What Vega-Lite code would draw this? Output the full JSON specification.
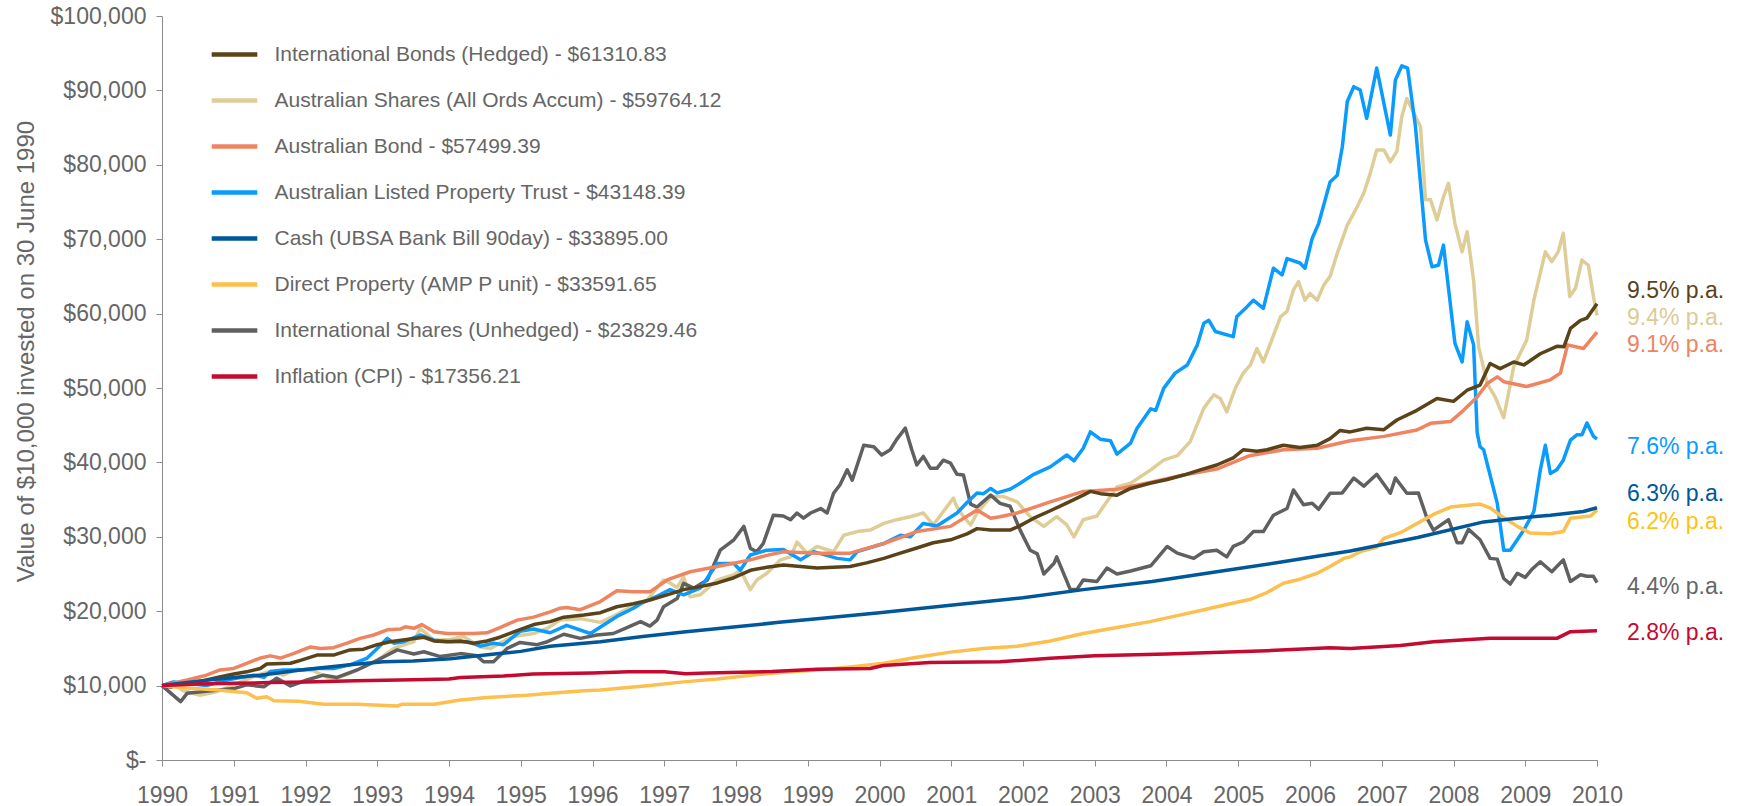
{
  "$schema": "https://vega.github.io/schema/vega-lite/v6.json",
  "width": 1435,
  "height": 744,
  "autosize": "none",
  "padding": {"left": 162, "top": 16, "right": 146, "bottom": 46},
  "background": "white",
  "config": {
    "view": {"stroke": null},
    "font": "Liberation Sans",
    "axis": {"labelFont": "Liberation Sans", "titleFont": "Liberation Sans"}
  },
  "datasets": {
    "lines": [
      {"series":"AS","year":1990,"value":10000},{"series":"AS","year":1990.12,"value":10400},{"series":"AS","year":1990.3,"value":9300},{"series":"AS","year":1990.53,"value":8700},{"series":"AS","year":1990.77,"value":9200},{"series":"AS","year":1991,"value":10100},{"series":"AS","year":1991.32,"value":11400},{"series":"AS","year":1991.51,"value":11900},{"series":"AS","year":1991.69,"value":11400},{"series":"AS","year":1991.88,"value":12200},{"series":"AS","year":1992.11,"value":12000},{"series":"AS","year":1992.3,"value":11100},{"series":"AS","year":1992.44,"value":11000},{"series":"AS","year":1992.62,"value":11650},{"series":"AS","year":1992.81,"value":12500},{"series":"AS","year":1993,"value":13400},{"series":"AS","year":1993.23,"value":15000},{"series":"AS","year":1993.51,"value":15900},{"series":"AS","year":1993.6,"value":17700},{"series":"AS","year":1993.79,"value":16100},{"series":"AS","year":1994.02,"value":16200},{"series":"AS","year":1994.2,"value":16600},{"series":"AS","year":1994.44,"value":15200},{"series":"AS","year":1994.58,"value":15000},{"series":"AS","year":1994.71,"value":15700},{"series":"AS","year":1994.9,"value":16600},{"series":"AS","year":1995.18,"value":17000},{"series":"AS","year":1995.37,"value":17700},{"series":"AS","year":1995.55,"value":18800},{"series":"AS","year":1995.83,"value":19000},{"series":"AS","year":1996.11,"value":18500},{"series":"AS","year":1996.29,"value":19300},{"series":"AS","year":1996.48,"value":20300},{"series":"AS","year":1996.57,"value":20600},{"series":"AS","year":1996.76,"value":21500},{"series":"AS","year":1996.99,"value":24200},{"series":"AS","year":1997.08,"value":23800},{"series":"AS","year":1997.18,"value":23200},{"series":"AS","year":1997.27,"value":24600},{"series":"AS","year":1997.36,"value":21950},{"series":"AS","year":1997.5,"value":22200},{"series":"AS","year":1997.74,"value":24200},{"series":"AS","year":1997.97,"value":24900},{"series":"AS","year":1998.06,"value":25500},{"series":"AS","year":1998.2,"value":22900},{"series":"AS","year":1998.29,"value":24200},{"series":"AS","year":1998.43,"value":25100},{"series":"AS","year":1998.62,"value":26900},{"series":"AS","year":1998.76,"value":27300},{"series":"AS","year":1998.85,"value":29300},{"series":"AS","year":1998.99,"value":27800},{"series":"AS","year":1999.13,"value":28700},{"series":"AS","year":1999.36,"value":28000},{"series":"AS","year":1999.5,"value":30200},{"series":"AS","year":1999.69,"value":30700},{"series":"AS","year":1999.87,"value":30900},{"series":"AS","year":2000.06,"value":31800},{"series":"AS","year":2000.24,"value":32300},{"series":"AS","year":2000.43,"value":32700},{"series":"AS","year":2000.61,"value":33200},{"series":"AS","year":2000.75,"value":31600},{"series":"AS","year":2000.89,"value":33400},{"series":"AS","year":2001.03,"value":35200},{"series":"AS","year":2001.08,"value":34000},{"series":"AS","year":2001.17,"value":32700},{"series":"AS","year":2001.27,"value":31600},{"series":"AS","year":2001.36,"value":33200},{"series":"AS","year":2001.55,"value":35400},{"series":"AS","year":2001.73,"value":35400},{"series":"AS","year":2001.92,"value":34700},{"series":"AS","year":2002.1,"value":32700},{"series":"AS","year":2002.29,"value":31400},{"series":"AS","year":2002.47,"value":32700},{"series":"AS","year":2002.61,"value":31600},{"series":"AS","year":2002.71,"value":30000},{"series":"AS","year":2002.84,"value":32300},{"series":"AS","year":2003.03,"value":32800},{"series":"AS","year":2003.31,"value":36700},{"series":"AS","year":2003.5,"value":37200},{"series":"AS","year":2003.78,"value":39000},{"series":"AS","year":2003.96,"value":40300},{"series":"AS","year":2004.15,"value":40900},{"series":"AS","year":2004.33,"value":42800},{"series":"AS","year":2004.52,"value":47300},{"series":"AS","year":2004.66,"value":49100},{"series":"AS","year":2004.75,"value":48600},{"series":"AS","year":2004.84,"value":46800},{"series":"AS","year":2004.96,"value":50000},{"series":"AS","year":2005.07,"value":52000},{"series":"AS","year":2005.17,"value":53100},{"series":"AS","year":2005.26,"value":55300},{"series":"AS","year":2005.35,"value":53500},{"series":"AS","year":2005.59,"value":59600},{"series":"AS","year":2005.68,"value":60300},{"series":"AS","year":2005.77,"value":63200},{"series":"AS","year":2005.84,"value":64300},{"series":"AS","year":2005.93,"value":61800},{"series":"AS","year":2006,"value":62700},{"series":"AS","year":2006.1,"value":61800},{"series":"AS","year":2006.19,"value":63800},{"series":"AS","year":2006.28,"value":65000},{"series":"AS","year":2006.38,"value":68100},{"series":"AS","year":2006.52,"value":71900},{"series":"AS","year":2006.66,"value":74400},{"series":"AS","year":2006.75,"value":76200},{"series":"AS","year":2006.84,"value":78850},{"series":"AS","year":2006.93,"value":82000},{"series":"AS","year":2007.03,"value":82000},{"series":"AS","year":2007.12,"value":80400},{"series":"AS","year":2007.21,"value":81800},{"series":"AS","year":2007.28,"value":86500},{"series":"AS","year":2007.35,"value":88900},{"series":"AS","year":2007.54,"value":85100},{"series":"AS","year":2007.61,"value":75300},{"series":"AS","year":2007.68,"value":75300},{"series":"AS","year":2007.77,"value":72600},{"series":"AS","year":2007.86,"value":75700},{"series":"AS","year":2007.93,"value":77500},{"series":"AS","year":2008.02,"value":72100},{"series":"AS","year":2008.12,"value":68300},{"series":"AS","year":2008.19,"value":71000},{"series":"AS","year":2008.28,"value":64500},{"series":"AS","year":2008.35,"value":55550},{"series":"AS","year":2008.47,"value":50600},{"series":"AS","year":2008.58,"value":48800},{"series":"AS","year":2008.7,"value":46000},{"series":"AS","year":2008.84,"value":52900},{"series":"AS","year":2009.02,"value":56450},{"series":"AS","year":2009.12,"value":61800},{"series":"AS","year":2009.28,"value":68300},{"series":"AS","year":2009.37,"value":67000},{"series":"AS","year":2009.46,"value":68300},{"series":"AS","year":2009.53,"value":70800},{"series":"AS","year":2009.62,"value":62300},{"series":"AS","year":2009.7,"value":63400},{"series":"AS","year":2009.79,"value":67200},{"series":"AS","year":2009.88,"value":66500},{"series":"AS","year":2009.95,"value":62300},{"series":"AS","year":2010,"value":59760},

      {"series":"IS","year":1990,"value":10000},{"series":"IS","year":1990.26,"value":7850},{"series":"IS","year":1990.35,"value":8960},{"series":"IS","year":1990.58,"value":9200},{"series":"IS","year":1991,"value":9600},{"series":"IS","year":1991.18,"value":10100},{"series":"IS","year":1991.42,"value":9850},{"series":"IS","year":1991.6,"value":11000},{"series":"IS","year":1991.79,"value":9950},{"series":"IS","year":1992.02,"value":10750},{"series":"IS","year":1992.25,"value":11400},{"series":"IS","year":1992.44,"value":11100},{"series":"IS","year":1992.72,"value":12100},{"series":"IS","year":1993,"value":13400},{"series":"IS","year":1993.28,"value":14800},{"series":"IS","year":1993.51,"value":14250},{"series":"IS","year":1993.65,"value":14550},{"series":"IS","year":1993.88,"value":13900},{"series":"IS","year":1994.16,"value":14300},{"series":"IS","year":1994.39,"value":14000},{"series":"IS","year":1994.48,"value":13200},{"series":"IS","year":1994.62,"value":13200},{"series":"IS","year":1994.81,"value":15000},{"series":"IS","year":1994.99,"value":15800},{"series":"IS","year":1995.23,"value":15500},{"series":"IS","year":1995.37,"value":15900},{"series":"IS","year":1995.6,"value":16900},{"series":"IS","year":1995.83,"value":16350},{"series":"IS","year":1996.06,"value":16800},{"series":"IS","year":1996.29,"value":17000},{"series":"IS","year":1996.48,"value":17800},{"series":"IS","year":1996.67,"value":18600},{"series":"IS","year":1996.8,"value":18000},{"series":"IS","year":1996.9,"value":18800},{"series":"IS","year":1996.99,"value":20600},{"series":"IS","year":1997.18,"value":21700},{"series":"IS","year":1997.27,"value":23750},{"series":"IS","year":1997.41,"value":23100},{"series":"IS","year":1997.6,"value":24200},{"series":"IS","year":1997.78,"value":28200},{"series":"IS","year":1997.97,"value":29600},{"series":"IS","year":1998.11,"value":31400},{"series":"IS","year":1998.2,"value":28450},{"series":"IS","year":1998.29,"value":28000},{"series":"IS","year":1998.38,"value":29100},{"series":"IS","year":1998.52,"value":32900},{"series":"IS","year":1998.66,"value":32800},{"series":"IS","year":1998.76,"value":32300},{"series":"IS","year":1998.85,"value":33200},{"series":"IS","year":1998.94,"value":32500},{"series":"IS","year":1999.04,"value":33200},{"series":"IS","year":1999.18,"value":33800},{"series":"IS","year":1999.27,"value":33200},{"series":"IS","year":1999.36,"value":35850},{"series":"IS","year":1999.45,"value":37000},{"series":"IS","year":1999.55,"value":39000},{"series":"IS","year":1999.62,"value":37600},{"series":"IS","year":1999.78,"value":42300},{"series":"IS","year":1999.92,"value":42100},{"series":"IS","year":2000.03,"value":41000},{"series":"IS","year":2000.15,"value":41700},{"series":"IS","year":2000.24,"value":43100},{"series":"IS","year":2000.36,"value":44600},{"series":"IS","year":2000.45,"value":41700},{"series":"IS","year":2000.52,"value":39650},{"series":"IS","year":2000.61,"value":40800},{"series":"IS","year":2000.71,"value":39200},{"series":"IS","year":2000.8,"value":39200},{"series":"IS","year":2000.89,"value":40300},{"series":"IS","year":2000.99,"value":39900},{"series":"IS","year":2001.08,"value":38400},{"series":"IS","year":2001.17,"value":38300},{"series":"IS","year":2001.27,"value":34400},{"series":"IS","year":2001.36,"value":34000},{"series":"IS","year":2001.55,"value":35600},{"series":"IS","year":2001.68,"value":34500},{"series":"IS","year":2001.82,"value":34100},{"series":"IS","year":2001.96,"value":30900},{"series":"IS","year":2002.1,"value":28200},{"series":"IS","year":2002.2,"value":27700},{"series":"IS","year":2002.29,"value":25000},{"series":"IS","year":2002.43,"value":26400},{"series":"IS","year":2002.47,"value":27300},{"series":"IS","year":2002.66,"value":22900},{"series":"IS","year":2002.75,"value":22900},{"series":"IS","year":2002.84,"value":24200},{"series":"IS","year":2003.03,"value":24000},{"series":"IS","year":2003.17,"value":25800},{"series":"IS","year":2003.31,"value":25000},{"series":"IS","year":2003.5,"value":25400},{"series":"IS","year":2003.78,"value":26100},{"series":"IS","year":2004.01,"value":28700},{"series":"IS","year":2004.15,"value":27800},{"series":"IS","year":2004.38,"value":27100},{"series":"IS","year":2004.52,"value":28000},{"series":"IS","year":2004.7,"value":28200},{"series":"IS","year":2004.84,"value":27300},{"series":"IS","year":2004.93,"value":28700},{"series":"IS","year":2005.07,"value":29300},{"series":"IS","year":2005.21,"value":30700},{"series":"IS","year":2005.35,"value":30700},{"series":"IS","year":2005.49,"value":32900},{"series":"IS","year":2005.68,"value":33800},{"series":"IS","year":2005.77,"value":36300},{"series":"IS","year":2005.91,"value":34300},{"series":"IS","year":2006.03,"value":34500},{"series":"IS","year":2006.12,"value":33700},{"series":"IS","year":2006.28,"value":35850},{"series":"IS","year":2006.45,"value":35900},{"series":"IS","year":2006.61,"value":37900},{"series":"IS","year":2006.75,"value":36800},{"series":"IS","year":2006.93,"value":38400},{"series":"IS","year":2007.12,"value":35850},{"series":"IS","year":2007.19,"value":37900},{"series":"IS","year":2007.35,"value":35850},{"series":"IS","year":2007.51,"value":35900},{"series":"IS","year":2007.63,"value":32500},{"series":"IS","year":2007.72,"value":30900},{"series":"IS","year":2007.93,"value":32300},{"series":"IS","year":2008.05,"value":29200},{"series":"IS","year":2008.12,"value":29200},{"series":"IS","year":2008.21,"value":31000},{"series":"IS","year":2008.37,"value":29600},{"series":"IS","year":2008.51,"value":27100},{"series":"IS","year":2008.61,"value":27000},{"series":"IS","year":2008.7,"value":24400},{"series":"IS","year":2008.79,"value":23650},{"series":"IS","year":2008.89,"value":25100},{"series":"IS","year":2009,"value":24550},{"series":"IS","year":2009.09,"value":25600},{"series":"IS","year":2009.21,"value":26650},{"series":"IS","year":2009.37,"value":25300},{"series":"IS","year":2009.53,"value":26900},{"series":"IS","year":2009.63,"value":24000},{"series":"IS","year":2009.77,"value":24900},{"series":"IS","year":2009.86,"value":24700},{"series":"IS","year":2009.95,"value":24700},{"series":"IS","year":2010,"value":23830},

      {"series":"LPT","year":1990,"value":10000},{"series":"LPT","year":1990.16,"value":10500},{"series":"LPT","year":1990.35,"value":10300},{"series":"LPT","year":1990.62,"value":10000},{"series":"LPT","year":1990.9,"value":10750},{"series":"LPT","year":1991.09,"value":11100},{"series":"LPT","year":1991.28,"value":11400},{"series":"LPT","year":1991.42,"value":11100},{"series":"LPT","year":1991.51,"value":11900},{"series":"LPT","year":1991.69,"value":12100},{"series":"LPT","year":1991.93,"value":12100},{"series":"LPT","year":1992.16,"value":12300},{"series":"LPT","year":1992.39,"value":12300},{"series":"LPT","year":1992.62,"value":12800},{"series":"LPT","year":1992.86,"value":13700},{"series":"LPT","year":1993,"value":15000},{"series":"LPT","year":1993.14,"value":16350},{"series":"LPT","year":1993.23,"value":15700},{"series":"LPT","year":1993.37,"value":15900},{"series":"LPT","year":1993.6,"value":16800},{"series":"LPT","year":1993.79,"value":16100},{"series":"LPT","year":1994.02,"value":15900},{"series":"LPT","year":1994.25,"value":15900},{"series":"LPT","year":1994.44,"value":15300},{"series":"LPT","year":1994.62,"value":15700},{"series":"LPT","year":1994.76,"value":15500},{"series":"LPT","year":1994.99,"value":17300},{"series":"LPT","year":1995.18,"value":17600},{"series":"LPT","year":1995.41,"value":17100},{"series":"LPT","year":1995.64,"value":18100},{"series":"LPT","year":1995.97,"value":17000},{"series":"LPT","year":1996.34,"value":19300},{"series":"LPT","year":1996.57,"value":20400},{"series":"LPT","year":1996.67,"value":21000},{"series":"LPT","year":1996.94,"value":22200},{"series":"LPT","year":1997.08,"value":22900},{"series":"LPT","year":1997.27,"value":22200},{"series":"LPT","year":1997.5,"value":23100},{"series":"LPT","year":1997.74,"value":26400},{"series":"LPT","year":1997.97,"value":26400},{"series":"LPT","year":1998.06,"value":25500},{"series":"LPT","year":1998.2,"value":27550},{"series":"LPT","year":1998.43,"value":28200},{"series":"LPT","year":1998.66,"value":28300},{"series":"LPT","year":1998.9,"value":26900},{"series":"LPT","year":1999.08,"value":28000},{"series":"LPT","year":1999.41,"value":27100},{"series":"LPT","year":1999.59,"value":26900},{"series":"LPT","year":1999.69,"value":28000},{"series":"LPT","year":2000.06,"value":29100},{"series":"LPT","year":2000.29,"value":30200},{"series":"LPT","year":2000.43,"value":30000},{"series":"LPT","year":2000.61,"value":31800},{"series":"LPT","year":2000.8,"value":31450},{"series":"LPT","year":2001.08,"value":33200},{"series":"LPT","year":2001.22,"value":34600},{"series":"LPT","year":2001.36,"value":35900},{"series":"LPT","year":2001.45,"value":35800},{"series":"LPT","year":2001.55,"value":36500},{"series":"LPT","year":2001.64,"value":35900},{"series":"LPT","year":2001.82,"value":36400},{"series":"LPT","year":2001.96,"value":37200},{"series":"LPT","year":2002.15,"value":38400},{"series":"LPT","year":2002.38,"value":39400},{"series":"LPT","year":2002.61,"value":41000},{"series":"LPT","year":2002.71,"value":40200},{"series":"LPT","year":2002.84,"value":41900},{"series":"LPT","year":2002.94,"value":44100},{"series":"LPT","year":2003.08,"value":43100},{"series":"LPT","year":2003.22,"value":42900},{"series":"LPT","year":2003.31,"value":41100},{"series":"LPT","year":2003.5,"value":42600},{"series":"LPT","year":2003.59,"value":44600},{"series":"LPT","year":2003.78,"value":47200},{"series":"LPT","year":2003.85,"value":47000},{"series":"LPT","year":2003.96,"value":49950},{"series":"LPT","year":2004.12,"value":52000},{"series":"LPT","year":2004.29,"value":53100},{"series":"LPT","year":2004.43,"value":55800},{"series":"LPT","year":2004.52,"value":58700},{"series":"LPT","year":2004.59,"value":59100},{"series":"LPT","year":2004.68,"value":57600},{"series":"LPT","year":2004.93,"value":56900},{"series":"LPT","year":2004.98,"value":59600},{"series":"LPT","year":2005.12,"value":60900},{"series":"LPT","year":2005.21,"value":61800},{"series":"LPT","year":2005.35,"value":60700},{"series":"LPT","year":2005.49,"value":66100},{"series":"LPT","year":2005.61,"value":65200},{"series":"LPT","year":2005.68,"value":67400},{"series":"LPT","year":2005.86,"value":66800},{"series":"LPT","year":2005.93,"value":66100},{"series":"LPT","year":2006.03,"value":70100},{"series":"LPT","year":2006.12,"value":72100},{"series":"LPT","year":2006.28,"value":77700},{"series":"LPT","year":2006.38,"value":78600},{"series":"LPT","year":2006.45,"value":82400},{"series":"LPT","year":2006.52,"value":88500},{"series":"LPT","year":2006.61,"value":90500},{"series":"LPT","year":2006.7,"value":90050},{"series":"LPT","year":2006.79,"value":86250},{"series":"LPT","year":2006.93,"value":93000},{"series":"LPT","year":2007.12,"value":84000},{"series":"LPT","year":2007.19,"value":91400},{"series":"LPT","year":2007.28,"value":93300},{"series":"LPT","year":2007.36,"value":93000},{"series":"LPT","year":2007.47,"value":85100},{"series":"LPT","year":2007.61,"value":69900},{"series":"LPT","year":2007.7,"value":66300},{"series":"LPT","year":2007.79,"value":66500},{"series":"LPT","year":2007.86,"value":69200},{"series":"LPT","year":2008.02,"value":56000},{"series":"LPT","year":2008.12,"value":53500},{"series":"LPT","year":2008.19,"value":58900},{"series":"LPT","year":2008.28,"value":55800},{"series":"LPT","year":2008.33,"value":44000},{"series":"LPT","year":2008.37,"value":42100},{"series":"LPT","year":2008.42,"value":41700},{"series":"LPT","year":2008.61,"value":34500},{"series":"LPT","year":2008.7,"value":28200},{"series":"LPT","year":2008.79,"value":28200},{"series":"LPT","year":2008.98,"value":30900},{"series":"LPT","year":2009.12,"value":33400},{"series":"LPT","year":2009.21,"value":39000},{"series":"LPT","year":2009.28,"value":42300},{"series":"LPT","year":2009.35,"value":38500},{"series":"LPT","year":2009.44,"value":39000},{"series":"LPT","year":2009.53,"value":40300},{"series":"LPT","year":2009.63,"value":43000},{"series":"LPT","year":2009.72,"value":43700},{"series":"LPT","year":2009.79,"value":43700},{"series":"LPT","year":2009.86,"value":45300},{"series":"LPT","year":2009.95,"value":43500},{"series":"LPT","year":2010,"value":43150},

      {"series":"AB","year":1990,"value":10000},{"series":"AB","year":1990.35,"value":10750},{"series":"AB","year":1990.62,"value":11400},{"series":"AB","year":1990.81,"value":12100},{"series":"AB","year":1991,"value":12300},{"series":"AB","year":1991.18,"value":13000},{"series":"AB","year":1991.37,"value":13700},{"series":"AB","year":1991.51,"value":14000},{"series":"AB","year":1991.65,"value":13700},{"series":"AB","year":1991.83,"value":14300},{"series":"AB","year":1992.07,"value":15200},{"series":"AB","year":1992.21,"value":15000},{"series":"AB","year":1992.39,"value":15100},{"series":"AB","year":1992.58,"value":15700},{"series":"AB","year":1992.76,"value":16350},{"series":"AB","year":1992.95,"value":16800},{"series":"AB","year":1993.14,"value":17500},{"series":"AB","year":1993.32,"value":17600},{"series":"AB","year":1993.39,"value":17900},{"series":"AB","year":1993.51,"value":17700},{"series":"AB","year":1993.62,"value":18200},{"series":"AB","year":1993.79,"value":17250},{"series":"AB","year":1993.97,"value":17000},{"series":"AB","year":1994.16,"value":17000},{"series":"AB","year":1994.34,"value":17000},{"series":"AB","year":1994.53,"value":17100},{"series":"AB","year":1994.71,"value":17800},{"series":"AB","year":1994.95,"value":18800},{"series":"AB","year":1995.18,"value":19200},{"series":"AB","year":1995.41,"value":19900},{"series":"AB","year":1995.55,"value":20400},{"series":"AB","year":1995.64,"value":20500},{"series":"AB","year":1995.83,"value":20200},{"series":"AB","year":1996.11,"value":21300},{"series":"AB","year":1996.34,"value":22750},{"series":"AB","year":1996.57,"value":22600},{"series":"AB","year":1996.8,"value":22600},{"series":"AB","year":1997.04,"value":24200},{"series":"AB","year":1997.36,"value":25300},{"series":"AB","year":1997.74,"value":26000},{"series":"AB","year":1998.2,"value":26900},{"series":"AB","year":1998.43,"value":27500},{"series":"AB","year":1998.66,"value":28000},{"series":"AB","year":1999.13,"value":27800},{"series":"AB","year":1999.59,"value":27800},{"series":"AB","year":2000.06,"value":29100},{"series":"AB","year":2000.52,"value":30700},{"series":"AB","year":2000.99,"value":31400},{"series":"AB","year":2001.36,"value":33600},{"series":"AB","year":2001.55,"value":32500},{"series":"AB","year":2001.68,"value":32700},{"series":"AB","year":2001.92,"value":33200},{"series":"AB","year":2002.38,"value":34700},{"series":"AB","year":2002.84,"value":36100},{"series":"AB","year":2003.31,"value":36400},{"series":"AB","year":2003.77,"value":37300},{"series":"AB","year":2004.24,"value":38300},{"series":"AB","year":2004.7,"value":39100},{"series":"AB","year":2005.16,"value":40900},{"series":"AB","year":2005.63,"value":41700},{"series":"AB","year":2006.1,"value":41900},{"series":"AB","year":2006.56,"value":42900},{"series":"AB","year":2007.03,"value":43500},{"series":"AB","year":2007.49,"value":44350},{"series":"AB","year":2007.68,"value":45250},{"series":"AB","year":2007.96,"value":45500},{"series":"AB","year":2008.14,"value":47000},{"series":"AB","year":2008.33,"value":48800},{"series":"AB","year":2008.47,"value":50600},{"series":"AB","year":2008.61,"value":51500},{"series":"AB","year":2008.7,"value":50850},{"series":"AB","year":2009.02,"value":50200},{"series":"AB","year":2009.35,"value":51100},{"series":"AB","year":2009.49,"value":52000},{"series":"AB","year":2009.59,"value":55800},{"series":"AB","year":2009.81,"value":55300},{"series":"AB","year":2010,"value":57500},

      {"series":"IB","year":1990,"value":10000},{"series":"IB","year":1990.12,"value":9800},{"series":"IB","year":1990.35,"value":10200},{"series":"IB","year":1990.62,"value":10750},{"series":"IB","year":1990.77,"value":11100},{"series":"IB","year":1991,"value":11550},{"series":"IB","year":1991.18,"value":11850},{"series":"IB","year":1991.37,"value":12300},{"series":"IB","year":1991.46,"value":12900},{"series":"IB","year":1991.79,"value":13000},{"series":"IB","year":1991.93,"value":13400},{"series":"IB","year":1992.16,"value":14100},{"series":"IB","year":1992.39,"value":14100},{"series":"IB","year":1992.62,"value":14800},{"series":"IB","year":1992.81,"value":14900},{"series":"IB","year":1993,"value":15500},{"series":"IB","year":1993.18,"value":15900},{"series":"IB","year":1993.41,"value":16200},{"series":"IB","year":1993.65,"value":16500},{"series":"IB","year":1993.79,"value":16000},{"series":"IB","year":1993.97,"value":15900},{"series":"IB","year":1994.16,"value":16000},{"series":"IB","year":1994.34,"value":15700},{"series":"IB","year":1994.53,"value":16000},{"series":"IB","year":1994.71,"value":16500},{"series":"IB","year":1994.95,"value":17400},{"series":"IB","year":1995.18,"value":18200},{"series":"IB","year":1995.41,"value":18600},{"series":"IB","year":1995.6,"value":19200},{"series":"IB","year":1995.88,"value":19500},{"series":"IB","year":1996.11,"value":19800},{"series":"IB","year":1996.34,"value":20600},{"series":"IB","year":1996.57,"value":21000},{"series":"IB","year":1996.8,"value":21500},{"series":"IB","year":1997.04,"value":22200},{"series":"IB","year":1997.27,"value":22900},{"series":"IB","year":1997.5,"value":23300},{"series":"IB","year":1997.74,"value":23800},{"series":"IB","year":1997.97,"value":24500},{"series":"IB","year":1998.2,"value":25500},{"series":"IB","year":1998.43,"value":25900},{"series":"IB","year":1998.66,"value":26200},{"series":"IB","year":1998.9,"value":26000},{"series":"IB","year":1999.13,"value":25800},{"series":"IB","year":1999.36,"value":25900},{"series":"IB","year":1999.59,"value":26000},{"series":"IB","year":1999.82,"value":26500},{"series":"IB","year":2000.06,"value":27100},{"series":"IB","year":2000.29,"value":27800},{"series":"IB","year":2000.52,"value":28500},{"series":"IB","year":2000.75,"value":29200},{"series":"IB","year":2000.99,"value":29600},{"series":"IB","year":2001.22,"value":30400},{"series":"IB","year":2001.36,"value":31100},{"series":"IB","year":2001.55,"value":30900},{"series":"IB","year":2001.82,"value":30900},{"series":"IB","year":2001.96,"value":31500},{"series":"IB","year":2002.15,"value":32500},{"series":"IB","year":2002.38,"value":33500},{"series":"IB","year":2002.6,"value":34500},{"series":"IB","year":2002.84,"value":35600},{"series":"IB","year":2002.94,"value":36100},{"series":"IB","year":2003.08,"value":35800},{"series":"IB","year":2003.31,"value":35600},{"series":"IB","year":2003.5,"value":36500},{"series":"IB","year":2003.77,"value":37200},{"series":"IB","year":2004.01,"value":37700},{"series":"IB","year":2004.24,"value":38300},{"series":"IB","year":2004.47,"value":39000},{"series":"IB","year":2004.7,"value":39650},{"series":"IB","year":2004.93,"value":40600},{"series":"IB","year":2005.07,"value":41700},{"series":"IB","year":2005.26,"value":41500},{"series":"IB","year":2005.4,"value":41700},{"series":"IB","year":2005.63,"value":42300},{"series":"IB","year":2005.86,"value":42000},{"series":"IB","year":2006.1,"value":42300},{"series":"IB","year":2006.28,"value":43200},{"series":"IB","year":2006.42,"value":44300},{"series":"IB","year":2006.56,"value":44100},{"series":"IB","year":2006.79,"value":44600},{"series":"IB","year":2007.03,"value":44400},{"series":"IB","year":2007.21,"value":45700},{"series":"IB","year":2007.49,"value":47000},{"series":"IB","year":2007.77,"value":48600},{"series":"IB","year":2008,"value":48200},{"series":"IB","year":2008.19,"value":49700},{"series":"IB","year":2008.37,"value":50400},{"series":"IB","year":2008.51,"value":53300},{"series":"IB","year":2008.65,"value":52600},{"series":"IB","year":2008.84,"value":53500},{"series":"IB","year":2008.98,"value":53100},{"series":"IB","year":2009.21,"value":54600},{"series":"IB","year":2009.44,"value":55600},{"series":"IB","year":2009.54,"value":55550},{"series":"IB","year":2009.63,"value":58000},{"series":"IB","year":2009.77,"value":59100},{"series":"IB","year":2009.86,"value":59400},{"series":"IB","year":2010,"value":61310},

      {"series":"DP","year":1990,"value":10000},{"series":"DP","year":1990.3,"value":9700},{"series":"DP","year":1990.77,"value":9400},{"series":"DP","year":1991.18,"value":9050},{"series":"DP","year":1991.32,"value":8300},{"series":"DP","year":1991.46,"value":8500},{"series":"DP","year":1991.56,"value":7970},{"series":"DP","year":1991.9,"value":7900},{"series":"DP","year":1992.25,"value":7500},{"series":"DP","year":1992.72,"value":7500},{"series":"DP","year":1993.28,"value":7260},{"series":"DP","year":1993.35,"value":7500},{"series":"DP","year":1993.79,"value":7500},{"series":"DP","year":1994.16,"value":8060},{"series":"DP","year":1994.53,"value":8400},{"series":"DP","year":1995.09,"value":8700},{"series":"DP","year":1995.41,"value":8960},{"series":"DP","year":1995.88,"value":9300},{"series":"DP","year":1996.11,"value":9400},{"series":"DP","year":1996.34,"value":9600},{"series":"DP","year":1996.8,"value":10000},{"series":"DP","year":1997.27,"value":10500},{"series":"DP","year":1997.74,"value":10900},{"series":"DP","year":1998.2,"value":11400},{"series":"DP","year":1998.66,"value":11800},{"series":"DP","year":1999.13,"value":12100},{"series":"DP","year":1999.59,"value":12500},{"series":"DP","year":2000.06,"value":13000},{"series":"DP","year":2000.52,"value":13800},{"series":"DP","year":2000.99,"value":14500},{"series":"DP","year":2001.45,"value":15000},{"series":"DP","year":2001.92,"value":15300},{"series":"DP","year":2002.38,"value":16000},{"series":"DP","year":2002.84,"value":17000},{"series":"DP","year":2003.31,"value":17800},{"series":"DP","year":2003.77,"value":18600},{"series":"DP","year":2004.15,"value":19400},{"series":"DP","year":2004.52,"value":20200},{"series":"DP","year":2004.84,"value":20900},{"series":"DP","year":2005.17,"value":21600},{"series":"DP","year":2005.4,"value":22500},{"series":"DP","year":2005.63,"value":23750},{"series":"DP","year":2005.86,"value":24300},{"series":"DP","year":2006.1,"value":25100},{"series":"DP","year":2006.28,"value":26000},{"series":"DP","year":2006.47,"value":27100},{"series":"DP","year":2006.56,"value":27300},{"series":"DP","year":2006.7,"value":28000},{"series":"DP","year":2006.93,"value":28600},{"series":"DP","year":2007.03,"value":29800},{"series":"DP","year":2007.26,"value":30550},{"series":"DP","year":2007.49,"value":31800},{"series":"DP","year":2007.72,"value":33000},{"series":"DP","year":2007.96,"value":34000},{"series":"DP","year":2008.37,"value":34400},{"series":"DP","year":2008.51,"value":33900},{"series":"DP","year":2008.65,"value":32900},{"series":"DP","year":2008.89,"value":31400},{"series":"DP","year":2009.07,"value":30500},{"series":"DP","year":2009.35,"value":30400},{"series":"DP","year":2009.53,"value":30700},{"series":"DP","year":2009.63,"value":32500},{"series":"DP","year":2009.91,"value":32800},{"series":"DP","year":2010,"value":33590},

      {"series":"CASH","year":1990,"value":10000},{"series":"CASH","year":1990.5,"value":10600},{"series":"CASH","year":1991,"value":11100},{"series":"CASH","year":1991.37,"value":11400},{"series":"CASH","year":1991.93,"value":12100},{"series":"CASH","year":1992.62,"value":12800},{"series":"CASH","year":1993.09,"value":13200},{"series":"CASH","year":1993.5,"value":13300},{"series":"CASH","year":1994.02,"value":13600},{"series":"CASH","year":1994.7,"value":14300},{"series":"CASH","year":1995,"value":14600},{"series":"CASH","year":1995.41,"value":15300},{"series":"CASH","year":1996.11,"value":15900},{"series":"CASH","year":1996.7,"value":16600},{"series":"CASH","year":1997.27,"value":17200},{"series":"CASH","year":1998,"value":17900},{"series":"CASH","year":1998.6,"value":18500},{"series":"CASH","year":1999.13,"value":19000},{"series":"CASH","year":2000,"value":19800},{"series":"CASH","year":2000.99,"value":20800},{"series":"CASH","year":2002,"value":21800},{"series":"CASH","year":2002.84,"value":22900},{"series":"CASH","year":2003.8,"value":24000},{"series":"CASH","year":2004.7,"value":25300},{"series":"CASH","year":2005.6,"value":26600},{"series":"CASH","year":2006.56,"value":28100},{"series":"CASH","year":2007.5,"value":29900},{"series":"CASH","year":2008.42,"value":32000},{"series":"CASH","year":2008.89,"value":32500},{"series":"CASH","year":2009.35,"value":32900},{"series":"CASH","year":2009.81,"value":33400},{"series":"CASH","year":2010,"value":33900},

      {"series":"CPI","year":1990,"value":10000},{"series":"CPI","year":1990.5,"value":10200},{"series":"CPI","year":1991,"value":10300},{"series":"CPI","year":1991.5,"value":10400},{"series":"CPI","year":1992,"value":10500},{"series":"CPI","year":1992.7,"value":10660},{"series":"CPI","year":1993.5,"value":10800},{"series":"CPI","year":1994,"value":10900},{"series":"CPI","year":1994.16,"value":11100},{"series":"CPI","year":1994.76,"value":11300},{"series":"CPI","year":1995.17,"value":11560},{"series":"CPI","year":1996,"value":11700},{"series":"CPI","year":1996.5,"value":11870},{"series":"CPI","year":1997,"value":11870},{"series":"CPI","year":1997.3,"value":11600},{"series":"CPI","year":1997.6,"value":11700},{"series":"CPI","year":1998.5,"value":11900},{"series":"CPI","year":1999.13,"value":12190},{"series":"CPI","year":1999.87,"value":12300},{"series":"CPI","year":2000.05,"value":12700},{"series":"CPI","year":2000.7,"value":13100},{"series":"CPI","year":2001.68,"value":13200},{"series":"CPI","year":2002.38,"value":13670},{"series":"CPI","year":2003,"value":14000},{"series":"CPI","year":2004,"value":14250},{"series":"CPI","year":2005.4,"value":14700},{"series":"CPI","year":2006.28,"value":15100},{"series":"CPI","year":2006.56,"value":15000},{"series":"CPI","year":2007.26,"value":15400},{"series":"CPI","year":2007.72,"value":15900},{"series":"CPI","year":2008.51,"value":16350},{"series":"CPI","year":2009.44,"value":16350},{"series":"CPI","year":2009.63,"value":17250},{"series":"CPI","year":2010,"value":17360}
    ],
    "labels": [
      {"series":"IB","label":"9.5% p.a.","value":63000},
      {"series":"AS","label":"9.4% p.a.","value":59400},
      {"series":"AB","label":"9.1% p.a.","value":55800},
      {"series":"LPT","label":"7.6% p.a.","value":42100},
      {"series":"CASH","label":"6.3% p.a.","value":35700},
      {"series":"DP","label":"6.2% p.a.","value":32000},
      {"series":"IS","label":"4.4% p.a.","value":23300},
      {"series":"CPI","label":"2.8% p.a.","value":17100}
    ]
  },
  "layer": [
    {
      "data": {"name": "lines"},
      "transform": [
        {"lookup": "series", "from": {"data": {"values": [
          {"series":"IB","name":"International Bonds (Hedged) - $61310.83"},
          {"series":"AS","name":"Australian Shares (All Ords Accum) - $59764.12"},
          {"series":"AB","name":"Australian Bond - $57499.39"},
          {"series":"LPT","name":"Australian Listed Property Trust - $43148.39"},
          {"series":"CASH","name":"Cash (UBSA Bank Bill 90day) - $33895.00"},
          {"series":"DP","name":"Direct Property (AMP P unit) - $33591.65"},
          {"series":"IS","name":"International Shares (Unhedged) - $23829.46"},
          {"series":"CPI","name":"Inflation (CPI) - $17356.21"}
        ]}, "key": "series", "fields": ["name"]}}
      ],
      "mark": {"type": "line", "strokeWidth": 3.5, "strokeJoin": "round"},
      "encoding": {
        "x": {
          "field": "year", "type": "quantitative",
          "scale": {"domain": [1990, 2010], "nice": false, "zero": false},
          "axis": {
            "title": null, "values": [1990,1991,1992,1993,1994,1995,1996,1997,1998,1999,2000,2001,2002,2003,2004,2005,2006,2007,2008,2009,2010],
            "format": "d", "grid": false, "labelFontSize": 23, "labelColor": "#666666",
            "domainColor": "#8c8c8c", "tickColor": "#8c8c8c", "tickSize": 6, "labelPadding": 18,
            "labelFlush": false, "labelOverlap": false
          }
        },
        "y": {
          "field": "value", "type": "quantitative",
          "scale": {"domain": [0, 100000], "nice": false},
          "axis": {
            "title": "Value of $10,000 invested on 30 June 1990",
            "values": [0,10000,20000,30000,40000,50000,60000,70000,80000,90000,100000],
            "labelExpr": "datum.value === 0 ? '$-' : '$' + format(datum.value, ',')",
            "grid": false, "labelFontSize": 23, "labelColor": "#666666",
            "domainColor": "#8c8c8c", "tickColor": "#8c8c8c", "tickSize": 6, "labelPadding": 10,
            "titleFontSize": 24, "titleFontWeight": "normal", "titleColor": "#666666",
            "titleX": -124, "titleY": 335, "titleAngle": 270, "titleBaseline": "bottom", "titleAlign": "center"
          }
        },
        "color": {
          "field": "name", "type": "nominal",
          "scale": {
            "domain": [
              "International Bonds (Hedged) - $61310.83",
              "Australian Shares (All Ords Accum) - $59764.12",
              "Australian Bond - $57499.39",
              "Australian Listed Property Trust - $43148.39",
              "Cash (UBSA Bank Bill 90day) - $33895.00",
              "Direct Property (AMP P unit) - $33591.65",
              "International Shares (Unhedged) - $23829.46",
              "Inflation (CPI) - $17356.21"
            ],
            "range": ["#5b4319", "#dfcd98", "#ef8461", "#0a9bff", "#00579a", "#fdbf4e", "#606060", "#c40a30"]
          },
          "legend": {
            "title": null, "orient": "none", "legendX": 47, "legendY": 13, "direction": "vertical",
            "symbolType": "stroke", "symbolSize": 2080, "symbolStrokeWidth": 4.5,
            "labelFontSize": 21, "labelColor": "#666666", "labelOffset": 14.5, "labelLimit": 1000,
            "rowPadding": 10, "padding": 0
          }
        },
        "detail": {"field": "series"}
      }
    },
    {
      "data": {"name": "labels"},
      "mark": {"type": "text", "align": "left", "baseline": "middle", "dx": 30, "fontSize": 23},
      "encoding": {
        "x": {"datum": 2010, "type": "quantitative"},
        "y": {"field": "value", "type": "quantitative"},
        "text": {"field": "label"},
        "color": {
          "field": "series", "type": "nominal",
          "scale": {"domain": ["IB","AS","AB","LPT","CASH","DP","IS","CPI"],
                    "range": ["#5b4319", "#dccb96", "#ef8461", "#0a9bff", "#00579a", "#ffc20e", "#666666", "#c40a30"]},
          "legend": null
        }
      }
    }
  ],
  "resolve": {"scale": {"color": "independent"}}
}
